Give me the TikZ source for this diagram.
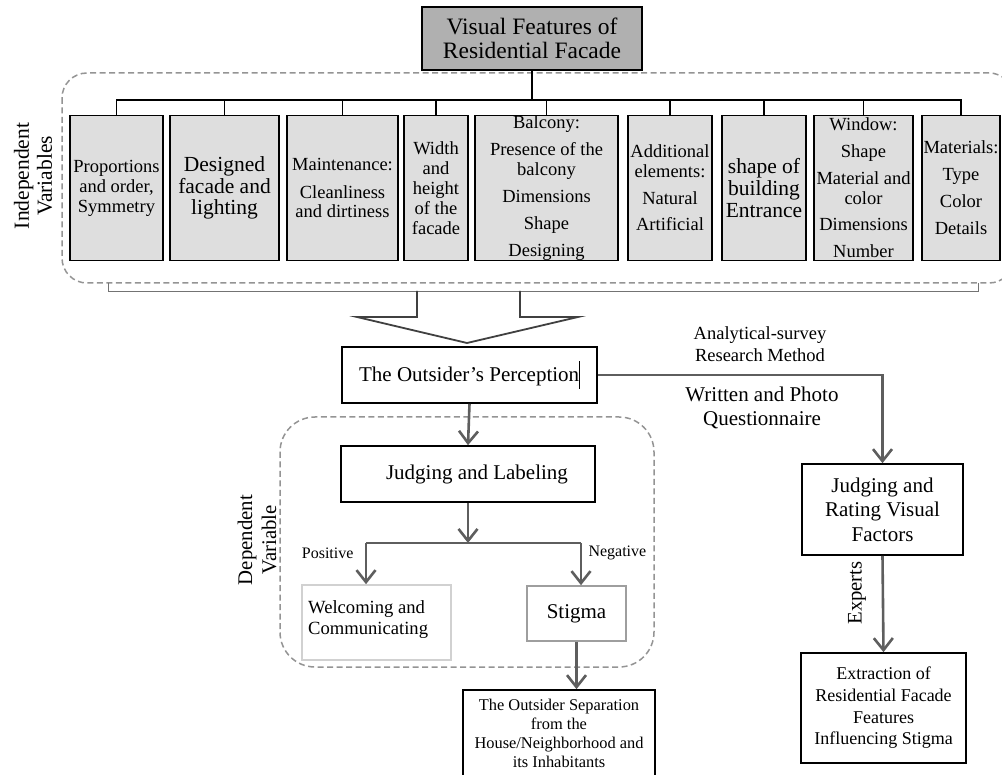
\documentclass[tikz,border=0pt]{standalone}
\usepackage{fontspec}
\setmainfont{Liberation Serif}
\usetikzlibrary{arrows.meta}
\newcommand\fsz[2]{\fontsize{#1}{#2}\selectfont}
\tikzset{
    feature box/.style={draw=black,line width=1.6pt,fill=black!13,inner sep=0pt,
        minimum height=145pt,align=center,font=\fsz{18.5}{20}},
    main box/.style={draw=black,line width=1.6pt,fill=white,inner sep=2pt,align=center},
    dash frame/.style={draw=black!42,line width=1.5pt,dash pattern=on 6pt off 3.5pt},
    conn arrow/.style={draw=black!63,line width=2.6pt,-{Straight Barb[length=12pt,width=19pt]}},
    conn line/.style={draw=black!63,line width=2.6pt},
    bus line/.style={draw=black,line width=1.6pt},
}

\begin{document}
\begin{tikzpicture}[x=1pt,y=-1pt]
\useasboundingbox (0,0) rectangle (1002,775);
% independent variables
\draw[dash frame,rounded corners=25pt] (62,73) rectangle (1014,283);
\node[rotate=90,align=center,font=\fsz{21.5}{23}] (indep) at (33,176) {Independent\\Variables};
\node[main box,fill=black!31,minimum width=220pt,minimum height=63pt,font=\fsz{23.5}{24}] (title) at (532,38.5) {Visual Features of\\Residential Facade};

\node[feature box,minimum width=93pt] (f1) at (116.5,188) {Proportions\\and order,\\Symmetry};
\node[feature box,minimum width=109pt,font=\fsz{21.5}{21.7}] (f2) at (224.5,188) {Designed\\facade and\\lighting};
\node[feature box,minimum width=111pt,font=\fsz{18.5}{19.5}] (f3) at (342.5,188) {Maintenance:\\[8pt]Cleanliness\\and dirtiness};
\node[feature box,minimum width=64pt] (f4) at (436,188) {Width\\and\\height\\of the\\facade};
\node[feature box,minimum width=143pt] (f5) at (546.5,188) {Balcony:\\[7pt]Presence of the\\balcony\\[7pt]Dimensions\\[7pt]Shape\\[7pt]Designing};
\node[feature box,minimum width=84pt] (f6) at (670,188) {Additional\\elements:\\[7pt]Natural\\[6pt]Artificial};
\node[feature box,minimum width=84pt,font=\fsz{21.5}{21.7}] (f7) at (764,188) {shape of\\building\\Entrance};
\node[feature box,minimum width=99pt] (f8) at (863.5,188) {Window:\\[7pt]Shape\\[7pt]Material and\\color\\[6pt]Dimensions\\[7pt]Number};
\node[feature box,minimum width=78pt] (f9) at (961,188) {Materials:\\[7pt]Type\\[7pt]Color\\[7pt]Details};

\coordinate (bus) at (532,100);
\draw[bus line] (title.south) -- (bus);
\draw[bus line] (f1.north) -- (f1.north |- bus) -- (f9.north |- bus) -- (f9.north);
\foreach \f in {f2,f3,f4,f5,f6,f7,f8}
    \draw[bus line] (\f.north) -- (\f.north |- bus);

% bracket and hollow arrow
\draw[black!55,line width=0.8pt] (108,283) -- (108,291) -- (978,291) -- (978,283);
\draw[black!75,line width=1.8pt] (417,291) -- (417,317) -- (357,317) -- (467,343) -- (578,317) -- (520,317) -- (520,291);

\node[main box,minimum width=255pt,minimum height=56pt,font=\fsz{21}{24}] (perc) at (469.5,375)
    {The Outsider's Perception\rule[-7pt]{0.7pt}{28pt}};

% dependent variable
\draw[dash frame,rounded corners=35pt] (280,417) rectangle (654,667);
\node[rotate=90,align=center,font=\fsz{20.8}{24}] (dep) at (257,540) {Dependent\\Variable};
\node[main box,minimum width=254pt,minimum height=56pt,font=\fsz{21}{24}] (judg) at (468,474) {\hspace*{18pt}Judging and Labeling};
\node[draw=black!18,line width=1.6pt,minimum width=149pt,minimum height=75pt] (welc) at (376.5,622.5) {};
\node[anchor=north west,align=left,inner sep=0pt,font=\fsz{18.6}{21}] (welctxt) at (308,600) {Welcoming and\\Communicating};
\node[draw=black!38,line width=1.6pt,minimum width=99pt,minimum height=55pt,font=\fsz{21}{24}] (stig) at (576.5,613.5) {Stigma};
\node[main box,minimum width=192pt,minimum height=86pt,font=\fsz{16.4}{19}] (sep) at (559,733)
    {The Outsider Separation\\from the\\House/Neighborhood and\\its Inhabitants};

\coordinate (split) at (468,543);
\coordinate (posbr) at (366,543);
\coordinate (negbr) at (581,543);
\draw[conn arrow] (perc.south) -- (judg.north);
\draw[conn arrow] (judg.south) -- (split);
\draw[conn line] (posbr) -- (negbr);
\draw[conn arrow] (posbr) -- (posbr |- welc.north);
\draw[conn arrow] (negbr) -- (negbr |- stig.north);
\node[font=\fsz{16}{18},anchor=east] (pos) at (357,553) {Positive};
\node[font=\fsz{16}{18},anchor=west] (neg) at (585,553) {Negative};
\draw[conn arrow] (stig.south) -- (stig.south |- sep.north);

% expert path
\node[main box,minimum width=161pt,minimum height=91pt,font=\fsz{21}{24.5}] (rate) at (882.5,509.5) {Judging and\\Rating Visual\\Factors};
\node[main box,minimum width=165pt,minimum height=110pt,font=\fsz{18}{21.7}] (extr) at (883.5,708)
    {Extraction of\\Residential Facade\\Features\\Influencing Stigma};
\draw[conn arrow] (perc.east) -| (rate.north);
\node[align=center,font=\fsz{18.5}{22}] (method) at (760,344) {Analytical-survey\\Research Method};
\node[align=center,font=\fsz{21}{24}] (quest) at (762,408) {Written and Photo\\Questionnaire};
\draw[conn arrow] (rate.south) -- (extr.north);
\node[rotate=90,font=\fsz{20.7}{24}] (expert) at (857,593) {Experts};
\end{tikzpicture}
\end{document}
